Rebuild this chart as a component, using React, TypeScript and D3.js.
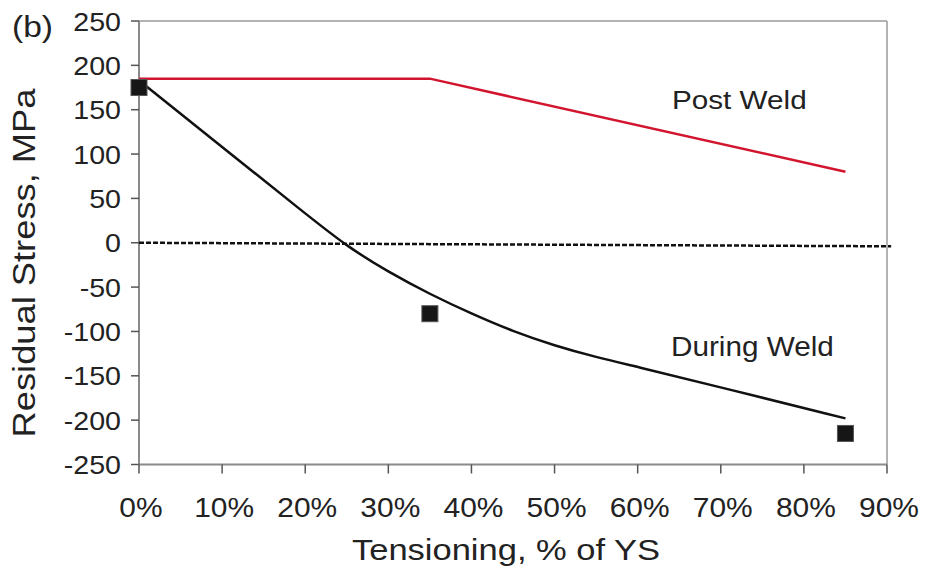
import React from "react";
import * as d3 from "d3";

// Tensioning level (% of yield strength) and residual stress (MPa)
const postWeldX = [0, 35, 85];
const postWeldY = [185, 185, 80];

const duringWeldX = [0, 10, 20, 25, 30, 35, 40, 45, 50, 55, 60, 70, 85];
const duringWeldY = [183, 108, 33, -4, -33, -58, -80, -100, -116, -129, -140, -163, -198];

const measuredX = [0, 35, 85];
const measuredY = [175, -80, -215];

const zeroLineX = [0, 90.5];
const zeroLineY = [0, -4];

const xTicks = [0, 10, 20, 30, 40, 50, 60, 70, 80, 90];
const yTicks = [250, 200, 150, 100, 50, 0, -50, -100, -150, -200, -250];

const W = 926;
const H = 574;
const FONT = "'Liberation Sans', Arial, Helvetica, sans-serif";
const TEXT = "#222";

function Label(props: {
  x: number; y: number; text: string; size: number; sx?: number;
  anchor?: "start" | "middle" | "end"; rotate?: number;
}) {
  const { x, y, text, size, sx = 1.12, anchor = "middle", rotate = 0 } = props;
  return (
    <text
      transform={`translate(${x},${y}) rotate(${rotate}) scale(${sx},1)`}
      textAnchor={anchor}
      fontFamily={FONT}
      fontSize={size}
      fill={TEXT}
    >
      {text}
    </text>
  );
}

export default function App() {
  const x = d3.scaleLinear().domain([0, 90]).range([139, 887]);
  const y = d3.scaleLinear().domain([-250, 250]).range([464.5, 21]);

  const line = d3
    .line<[number, number]>()
    .x((d) => x(d[0]))
    .y((d) => y(d[1]));
  const smooth = d3
    .line<[number, number]>()
    .x((d) => x(d[0]))
    .y((d) => y(d[1]))
    .curve(d3.curveBasis);

  const postPts = postWeldX.map((v, i) => [v, postWeldY[i]] as [number, number]);
  const duringPts = duringWeldX.map((v, i) => [v, duringWeldY[i]] as [number, number]);
  const zeroPts = zeroLineX.map((v, i) => [v, zeroLineY[i]] as [number, number]);

  const [x0, x1] = x.range();
  const [yb, yt] = y.range();
  const sq = 16;

  return (
    <svg
      width={W}
      height={H}
      style={{ position: "absolute", left: 0, top: 0, background: "#fff" }}
    >
      {/* plot frame */}
      <line x1={x0} x2={x1} y1={yt} y2={yt} stroke="#9a9a9a" strokeWidth={1.5} />
      <line x1={x1} x2={x1} y1={yt} y2={yb} stroke="#9a9a9a" strokeWidth={1.5} />
      <line x1={x0} x2={x0} y1={yt} y2={yb} stroke="#8a8a8a" strokeWidth={2} />
      <line x1={x0} x2={x1} y1={yb} y2={yb} stroke="#8a8a8a" strokeWidth={2} />

      {/* y axis ticks and labels */}
      {yTicks.map((t) => (
        <g key={`y${t}`}>
          <line x1={x0 - 8} x2={x0} y1={y(t)} y2={y(t)} stroke="#555" strokeWidth={1.5} />
          <Label x={x0 - 18} y={y(t) + 9.5} text={String(t)} size={26} sx={1.1} anchor="end" />
        </g>
      ))}

      {/* x axis ticks and labels */}
      {xTicks.map((t) => (
        <g key={`x${t}`}>
          <line x1={x(t)} x2={x(t)} y1={yb} y2={yb + 9} stroke="#555" strokeWidth={1.5} />
          <Label x={x(t) + 2} y={516.5} text={`${t}%`} size={28} sx={1.07} />
        </g>
      ))}

      {/* zero reference */}
      <path d={line(zeroPts) ?? ""} fill="none" stroke="#111" strokeWidth={2.5} strokeDasharray="5,2" />

      {/* post weld */}
      <path d={line(postPts) ?? ""} fill="none" stroke="#d2152e" strokeWidth={2.5} />

      {/* during weld */}
      <path d={smooth(duringPts) ?? ""} fill="none" stroke="#111" strokeWidth={2.5} />

      {/* measured values */}
      {measuredX.map((v, i) => (
        <rect
          key={`m${i}`}
          x={x(v) - sq / 2}
          y={y(measuredY[i]) - sq / 2}
          width={sq}
          height={sq}
          fill="#161616"
          stroke="#555"
          strokeWidth={1}
        />
      ))}

      <Label x={672} y={109} text="Post Weld" size={26.5} sx={1.12} anchor="start" />
      <Label x={671} y={356} text="During Weld" size={27} sx={1.1} anchor="start" />
      <Label x={12} y={37} text="(b)" size={30} sx={1.12} anchor="start" />

      <Label x={506} y={560} text="Tensioning, % of YS" size={29} sx={1.19} />
      <Label x={35} y={263} text="Residual Stress, MPa" size={30.5} sx={1.19} rotate={-90} />
    </svg>
  );
}
